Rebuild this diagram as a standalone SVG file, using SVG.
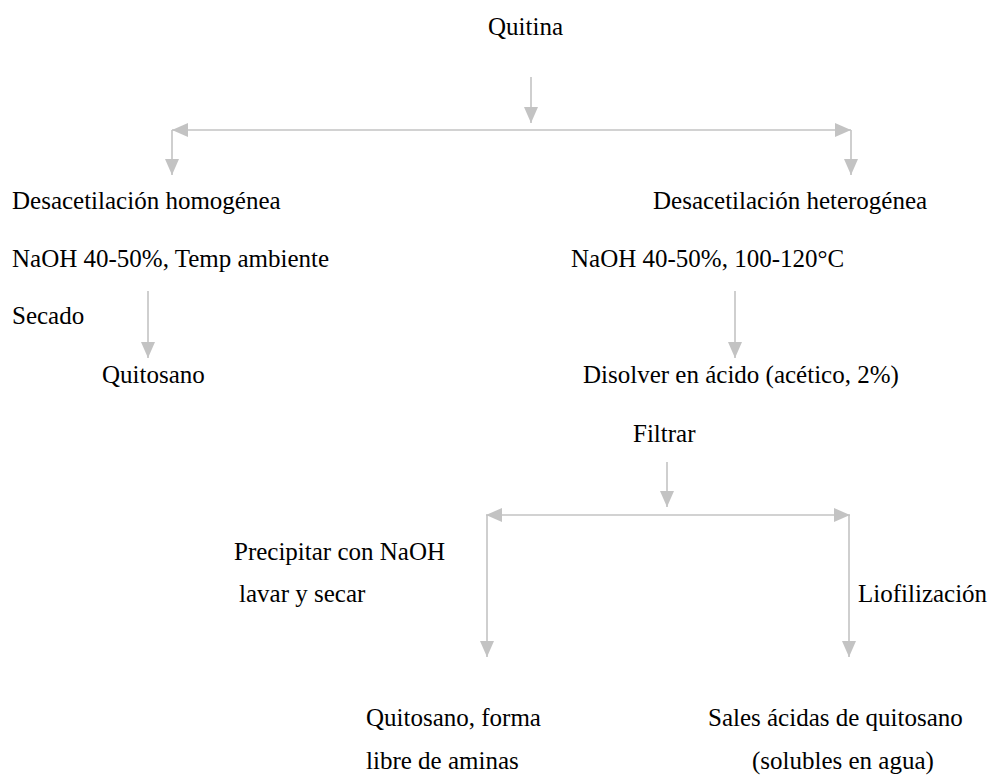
<svg xmlns="http://www.w3.org/2000/svg" width="993" height="780" viewBox="0 0 993 780">
<style>
text{font-family:"Liberation Serif","Times New Roman",serif;font-size:25px;fill:#000}
.c{stroke:#c3c3c3;stroke-width:1.6;fill:none;marker-end:url(#ah)}
</style>
<defs>
<marker id="ah" viewBox="0 0 16 14" refX="16" refY="7" markerWidth="16" markerHeight="14" orient="auto" markerUnits="userSpaceOnUse">
<path d="M0,0 L16,7 L0,14 z" fill="#c3c3c3"/>
</marker>
</defs>
<rect width="993" height="780" fill="#fff"/>
<g id="connectors">
<path class="c" d="M531,77 V123"/>
<path class="c" d="M531,130 H172"/>
<path class="c" d="M531,130 H851"/>
<path class="c" d="M172,130 V175"/>
<path class="c" d="M851,130 V175"/>
<path class="c" d="M148,291 V358"/>
<path class="c" d="M735,291 V358"/>
<path class="c" d="M667,462 V507"/>
<path class="c" d="M667,515 H486"/>
<path class="c" d="M667,515 H850"/>
<path class="c" d="M487,515 V657"/>
<path class="c" d="M849,515 V657"/>
</g>
<g id="quitina"><text x="488" y="35">Quitina</text></g>
<g id="homogenea">
<text x="12" y="209">Desacetilación homogénea</text>
<text x="12" y="267">NaOH 40-50%, Temp ambiente</text>
<text x="12" y="324">Secado</text>
</g>
<g id="quitosano"><text x="102" y="383">Quitosano</text></g>
<g id="heterogenea">
<text x="653" y="209">Desacetilación heterogénea</text>
<text x="571" y="267">NaOH 40-50%, 100-120°C</text>
</g>
<g id="disolver">
<text x="583" y="383">Disolver en ácido (acético, 2%)</text>
<text x="633" y="442">Filtrar</text>
</g>
<g id="precipitar">
<text x="234" y="560">Precipitar con NaOH</text>
<text x="239" y="602">lavar y secar</text>
</g>
<g id="liofilizacion"><text x="858" y="602">Liofilización</text></g>
<g id="quitosano-libre">
<text x="366" y="726">Quitosano, forma</text>
<text x="366" y="769">libre de aminas</text>
</g>
<g id="sales">
<text x="708" y="726">Sales ácidas de quitosano</text>
<text x="752" y="769">(solubles en agua)</text>
</g>
</svg>
